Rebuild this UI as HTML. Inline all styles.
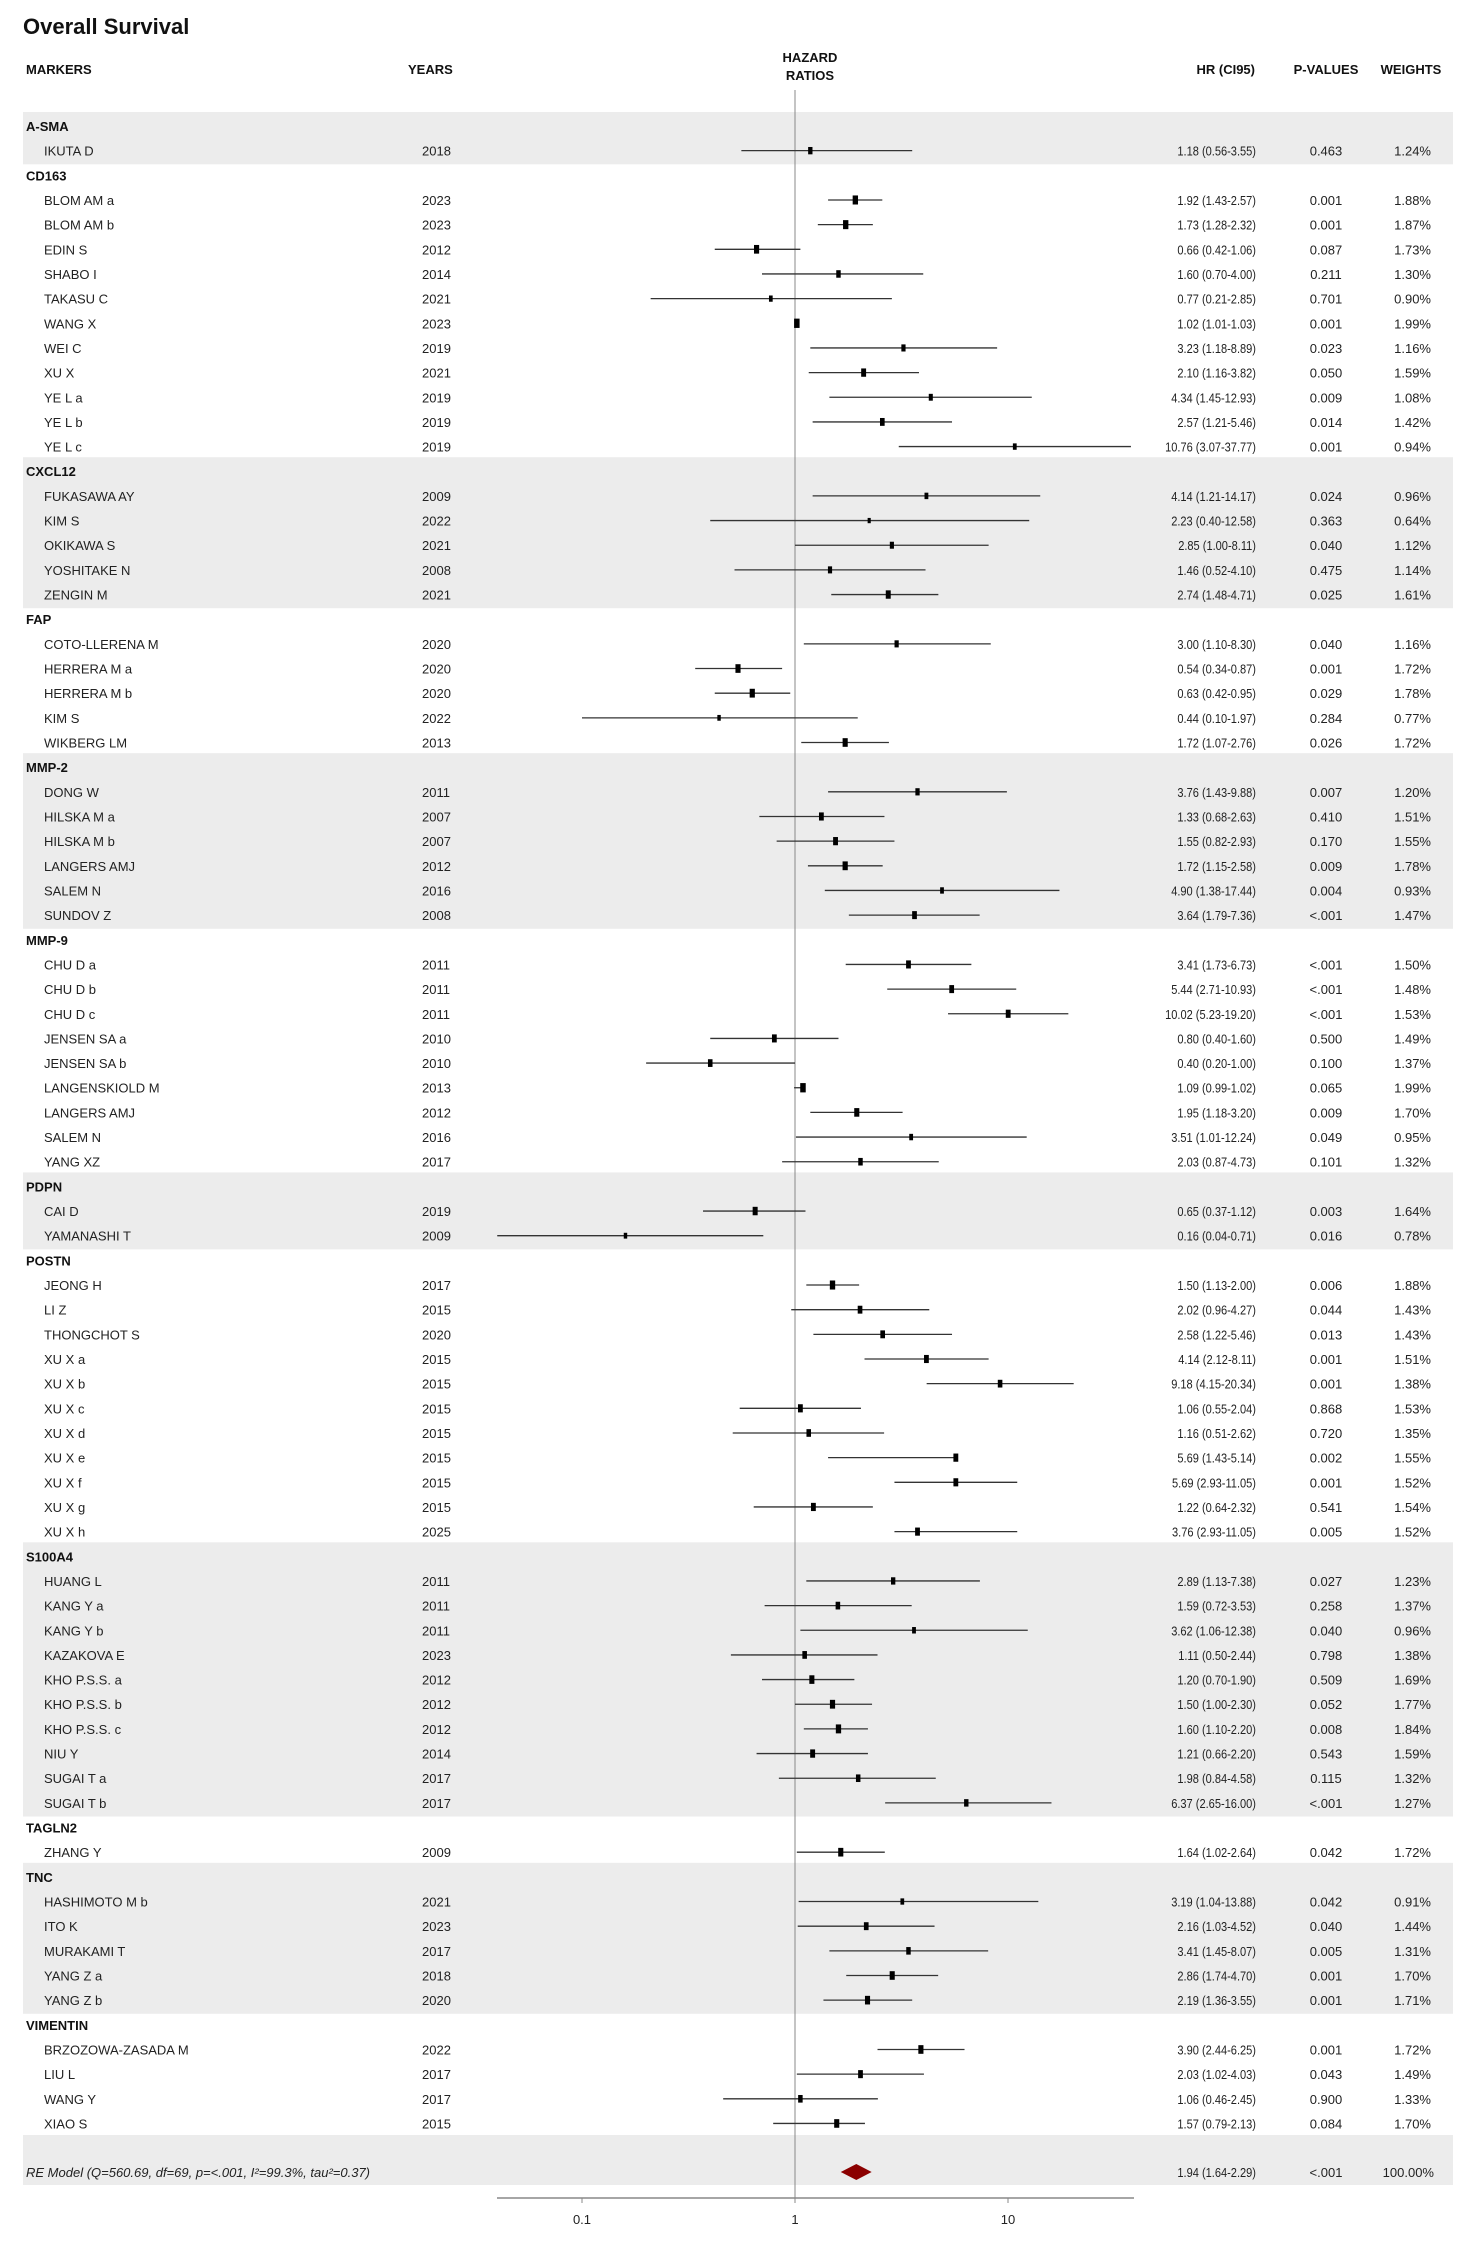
<!DOCTYPE html>
<html><head><meta charset="utf-8"><style>
html,body{margin:0;padding:0;background:#fff;}
svg{display:block;font-family:"Liberation Sans",sans-serif;}
</style></head><body>
<svg id="chart" width="1464" height="2244" viewBox="0 0 1464 2244" xmlns="http://www.w3.org/2000/svg">
<text x="23" y="34" font-size="22" font-weight="bold" fill="#111">Overall Survival</text>
<g font-size="13" font-weight="bold" fill="#111">
<text x="26" y="74">MARKERS</text>
<text x="408" y="74">YEARS</text>
<text x="810" y="62" text-anchor="middle">HAZARD</text>
<text x="810" y="80" text-anchor="middle">RATIOS</text>
<text x="1255" y="74" text-anchor="end">HR (CI95)</text>
<text x="1326" y="74" text-anchor="middle">P-VALUES</text>
<text x="1411" y="74" text-anchor="middle">WEIGHTS</text>
</g>
<g id="bands"></g><g id="rows"></g><g id="marks"></g><g id="axis"></g>
</svg>
<script>
const groupNames=["A-SMA","CD163","CXCL12","FAP","MMP-2","MMP-9","PDPN","POSTN","S100A4","TAGLN2","TNC","VIMENTIN"];
const groupSizes=[1,11,5,5,6,9,2,11,10,1,5,4];
const studyLabels=["IKUTA D","BLOM AM a","BLOM AM b","EDIN S","SHABO I","TAKASU C","WANG X","WEI C","XU X","YE L a","YE L b","YE L c","FUKASAWA AY","KIM S","OKIKAWA S","YOSHITAKE N","ZENGIN M","COTO-LLERENA M","HERRERA M a","HERRERA M b","KIM S","WIKBERG LM","DONG W","HILSKA M a","HILSKA M b","LANGERS AMJ","SALEM N","SUNDOV Z","CHU D a","CHU D b","CHU D c","JENSEN SA a","JENSEN SA b","LANGENSKIOLD M","LANGERS AMJ","SALEM N","YANG XZ","CAI D","YAMANASHI T","JEONG H","LI Z","THONGCHOT S","XU X a","XU X b","XU X c","XU X d","XU X e","XU X f","XU X g","XU X h","HUANG L","KANG Y a","KANG Y b","KAZAKOVA E","KHO P.S.S. a","KHO P.S.S. b","KHO P.S.S. c","NIU Y","SUGAI T a","SUGAI T b","ZHANG Y","HASHIMOTO M b","ITO K","MURAKAMI T","YANG Z a","YANG Z b","BRZOZOWA-ZASADA M","LIU L","WANG Y","XIAO S"];
const years=[2018,2023,2023,2012,2014,2021,2023,2019,2021,2019,2019,2019,2009,2022,2021,2008,2021,2020,2020,2020,2022,2013,2011,2007,2007,2012,2016,2008,2011,2011,2011,2010,2010,2013,2012,2016,2017,2019,2009,2017,2015,2020,2015,2015,2015,2015,2015,2015,2015,2025,2011,2011,2011,2023,2012,2012,2012,2014,2017,2017,2009,2021,2023,2017,2018,2020,2022,2017,2017,2015];
const hr=[1.18,1.92,1.73,0.66,1.60,0.77,1.02,3.23,2.10,4.34,2.57,10.76,4.14,2.23,2.85,1.46,2.74,3.00,0.54,0.63,0.44,1.72,3.76,1.33,1.55,1.72,4.90,3.64,3.41,5.44,10.02,0.80,0.40,1.09,1.95,3.51,2.03,0.65,0.16,1.50,2.02,2.58,4.14,9.18,1.06,1.16,5.69,5.69,1.22,3.76,2.89,1.59,3.62,1.11,1.20,1.50,1.60,1.21,1.98,6.37,1.64,3.19,2.16,3.41,2.86,2.19,3.90,2.03,1.06,1.57];
const lower=[0.56,1.43,1.28,0.42,0.70,0.21,1.01,1.18,1.16,1.45,1.21,3.07,1.21,0.40,1.00,0.52,1.48,1.10,0.34,0.42,0.10,1.07,1.43,0.68,0.82,1.15,1.38,1.79,1.73,2.71,5.23,0.40,0.20,0.99,1.18,1.01,0.87,0.37,0.04,1.13,0.96,1.22,2.12,4.15,0.55,0.51,1.43,2.93,0.64,2.93,1.13,0.72,1.06,0.50,0.70,1.00,1.10,0.66,0.84,2.65,1.02,1.04,1.03,1.45,1.74,1.36,2.44,1.02,0.46,0.79];
const upper=[3.55,2.57,2.32,1.06,4.00,2.85,1.03,8.89,3.82,12.93,5.46,37.77,14.17,12.58,8.11,4.10,4.71,8.30,0.87,0.95,1.97,2.76,9.88,2.63,2.93,2.58,17.44,7.36,6.73,10.93,19.20,1.60,1.00,1.02,3.20,12.24,4.73,1.12,0.71,2.00,4.27,5.46,8.11,20.34,2.04,2.62,5.14,11.05,2.32,11.05,7.38,3.53,12.38,2.44,1.90,2.30,2.20,2.20,4.58,16.00,2.64,13.88,4.52,8.07,4.70,3.55,6.25,4.03,2.45,2.13];
const pvals=["0.463","0.001","0.001","0.087","0.211","0.701","0.001","0.023","0.050","0.009","0.014","0.001","0.024","0.363","0.040","0.475","0.025","0.040","0.001","0.029","0.284","0.026","0.007","0.410","0.170","0.009","0.004","<.001","<.001","<.001","<.001","0.500","0.100","0.065","0.009","0.049","0.101","0.003","0.016","0.006","0.044","0.013","0.001","0.001","0.868","0.720","0.002","0.001","0.541","0.005","0.027","0.258","0.040","0.798","0.509","0.052","0.008","0.543","0.115","<.001","0.042","0.042","0.040","0.005","0.001","0.001","0.001","0.043","0.900","0.084"];
const weights=[1.24,1.88,1.87,1.73,1.30,0.90,1.99,1.16,1.59,1.08,1.42,0.94,0.96,0.64,1.12,1.14,1.61,1.16,1.72,1.78,0.77,1.72,1.20,1.51,1.55,1.78,0.93,1.47,1.50,1.48,1.53,1.49,1.37,1.99,1.70,0.95,1.32,1.64,0.78,1.88,1.43,1.43,1.51,1.38,1.53,1.35,1.55,1.52,1.54,1.52,1.23,1.37,0.96,1.38,1.69,1.77,1.84,1.59,1.32,1.27,1.72,0.91,1.44,1.31,1.70,1.71,1.72,1.49,1.33,1.70];
const pooled=[1.94,1.64,2.29];
const pooledLabel="RE Model (Q=560.69, df=69, p=<.001, I²=99.3%, tau²=0.37)";
const tickValues=[0.1,1,10];
const tickLabels=["0.1","1","10"];

const NS="http://www.w3.org/2000/svg";
const X1=795, DEC=213, Y0=126, PITCH=24.66, AXY=2198;
const xs=v=>X1+Math.log10(v)*DEC;
const ys=i=>Y0+i*PITCH;
function mk(parent,tag,attrs,txt){const e=document.createElementNS(NS,tag);for(const k in attrs)e.setAttribute(k,attrs[k]);if(txt!==undefined)e.textContent=txt;document.getElementById(parent).appendChild(e);return e;}
function squeeze(e,f){const L=e.getComputedTextLength();if(L>0){e.setAttribute('textLength',(L*f).toFixed(1));e.setAttribute('lengthAdjust','spacingAndGlyphs');}}
let ref=mk('marks','line',{x1:X1,x2:X1,y1:90,y2:AXY,stroke:'#888','stroke-width':1});


let row=0, s=0;
groupNames.forEach((g,gi)=>{
  const n=groupSizes[gi];
  if(gi%2===0){
    const b=mk('bands','rect',{x:23,y:ys(row)-14,width:1430,height:(n+1)*PITCH+3,fill:'#ececec'});
    
    
  }
  const h=mk('rows','text',{x:26,y:ys(row)+5,'font-size':13,'font-weight':'bold',fill:'#111'},g);
  
  
  row++;
  for(let k=0;k<n;k++,s++,row++){
    const y=ys(row), ty=y+5;
    let t=mk('rows','text',{x:44,y:ty,'font-size':13,fill:'#222'},studyLabels[s]);
    
    
    t=mk('rows','text',{x:422,y:ty,'font-size':13,fill:'#222'},String(years[s]));
    
    
    t=mk('rows','text',{x:1256,y:ty,'font-size':13,fill:'#222','text-anchor':'end'},hr[s].toFixed(2)+' ('+lower[s].toFixed(2)+'-'+upper[s].toFixed(2)+')');
    
    
    squeeze(t,0.85);
    t=mk('rows','text',{x:1326,y:ty,'font-size':13,fill:'#222','text-anchor':'middle'},pvals[s]);
    
    
    t=mk('rows','text',{x:1431,y:ty,'font-size':13,fill:'#222','text-anchor':'end'},weights[s].toFixed(2)+'%');
    
    
    const a=Math.min(lower[s],hr[s],upper[s]), b=Math.max(lower[s],hr[s],upper[s]);
    const l=mk('marks','line',{x1:xs(a),x2:xs(b),y1:y,y2:y,stroke:'#333','stroke-width':1.3});
    
    
    const sz=Math.sqrt(weights[s])*6;
    const w=sz*0.65, hh=sz*1.1;
    const r=mk('marks','rect',{x:xs(hr[s])-w/2,y:y-hh/2,width:w,height:hh,fill:'#000'});
    
    
  }
});
const py=2172;
const pb=mk('bands','rect',{x:23,y:2135,width:1430,height:50,fill:'#ececec'});


let pt=mk('rows','text',{x:26,y:py+5,'font-size':13,'font-style':'italic',fill:'#222'},pooledLabel);


pt=mk('rows','text',{x:1256,y:py+5,'font-size':13,fill:'#222','text-anchor':'end'},pooled[0].toFixed(2)+' ('+pooled[1].toFixed(2)+'-'+pooled[2].toFixed(2)+')');


squeeze(pt,0.85);
pt=mk('rows','text',{x:1326,y:py+5,'font-size':13,fill:'#222','text-anchor':'middle'},'<.001');


pt=mk('rows','text',{x:1434,y:py+5,'font-size':13,fill:'#222','text-anchor':'end'},'100.00%');


const dm=mk('marks','polygon',{points:`${xs(pooled[1])},${py} ${xs(pooled[0])},${py-8} ${xs(pooled[2])},${py} ${xs(pooled[0])},${py+8}`,fill:'#8b0000'});


const ax=mk('axis','line',{x1:497,x2:1134,y1:AXY,y2:AXY,stroke:'#888','stroke-width':1.5});


tickValues.forEach((v,i)=>{
  const tk=mk('axis','line',{x1:xs(v),x2:xs(v),y1:AXY,y2:AXY+5,stroke:'#888'});
  
  
  const tl=mk('axis','text',{x:xs(v),y:AXY+26,'font-size':13,fill:'#222','text-anchor':'middle'},tickLabels[i]);
  
  
});
</script>
</body></html>
